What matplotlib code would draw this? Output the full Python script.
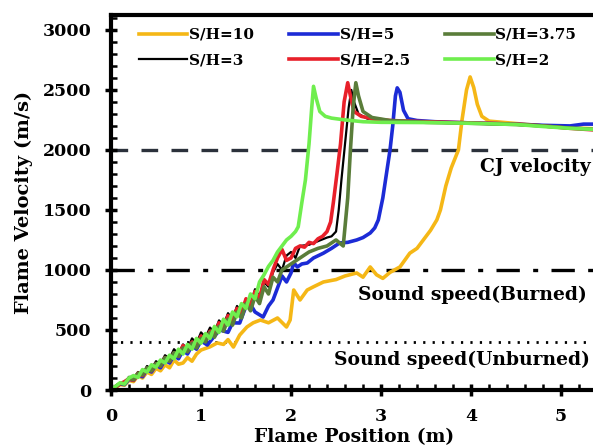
import matplotlib
matplotlib.use("Agg")
import matplotlib.pyplot as plt
from matplotlib.ticker import MultipleLocator

plt.rcParams['font.family'] = 'DejaVu Serif'
plt.rcParams['font.weight'] = 'bold'

# ---- data (position in m, velocity in m/s) ----
plateau_x = [3.5, 4.0, 4.5, 4.8, 5.1, 5.4]

x_sh10 = [0, 0.05, 0.1, 0.15, 0.2, 0.25, 0.3, 0.35, 0.4, 0.45, 0.5, 0.55, 0.6, 0.65,
          0.7, 0.75, 0.8, 0.85, 0.9, 0.95, 1.0, 1.1, 1.18, 1.25, 1.3, 1.36, 1.43,
          1.51, 1.58, 1.66, 1.75, 1.85, 1.95, 1.99, 2.03, 2.1, 2.18, 2.25, 2.36,
          2.5, 2.6, 2.73, 2.8, 2.88, 2.95, 3.02, 3.1, 3.21, 3.32, 3.4, 3.47, 3.55,
          3.62, 3.66, 3.72, 3.78, 3.86, 3.9, 3.95, 3.99, 4.03, 4.07, 4.12, 4.2,
          4.5, 4.8, 5.1, 5.4]
v_sh10 = [0, 20, 45, 40, 80, 70, 120, 100, 150, 130, 180, 160, 210, 185,
          250, 215, 225, 270, 240, 300, 333, 360, 392, 380, 420, 358, 458,
          525, 560, 583, 560, 600, 525, 583, 833, 750, 833, 860, 900,
          920, 950, 975, 940, 1025, 960, 930, 980, 1025, 1140, 1180, 1250, 1330,
          1417, 1500, 1700, 1850, 2000, 2250, 2500, 2608, 2520, 2380, 2280, 2240,
          2220, 2200, 2185, 2175]

x_sh5 = [0, 0.05, 0.1, 0.15, 0.2, 0.25, 0.3, 0.35, 0.4, 0.45, 0.5, 0.55, 0.6, 0.65,
         0.7, 0.75, 0.8, 0.85, 0.9, 0.95, 1.0, 1.07, 1.15, 1.21, 1.3, 1.35, 1.43,
         1.5, 1.54, 1.6, 1.69, 1.75, 1.8, 1.85, 1.9, 1.95, 2.0, 2.03, 2.07, 2.12,
         2.18, 2.25, 2.36, 2.45, 2.54, 2.63, 2.73, 2.8, 2.88, 2.93, 2.97, 3.02,
         3.06, 3.1, 3.13, 3.16, 3.18, 3.21, 3.25, 3.3, 3.4, 3.6, 4.0, 4.5, 4.8,
         5.1, 5.25, 5.4]
v_sh5 = [0, 25, 50, 45, 90, 80, 130, 110, 170, 150, 210, 185, 250, 225,
         290, 260, 330, 300, 370, 340, 410, 375, 450, 500, 480, 560, 558,
         700, 725, 650, 608, 700, 750, 850, 950, 900, 975, 1060, 1025, 1050,
         1058, 1100, 1140, 1180, 1225, 1230, 1250, 1270, 1308, 1350, 1417, 1600,
         1800, 2000, 2200, 2450, 2517, 2480, 2330, 2260, 2245, 2235, 2225, 2215, 2205,
         2200, 2215, 2215]

x_sh375 = [0, 0.05, 0.1, 0.15, 0.2, 0.25, 0.3, 0.35, 0.4, 0.45, 0.5, 0.55, 0.6,
           0.65, 0.7, 0.75, 0.8, 0.85, 0.9, 0.95, 1.0, 1.05, 1.1, 1.15, 1.2, 1.25,
           1.3, 1.35, 1.4, 1.45, 1.5, 1.55, 1.6, 1.65, 1.7, 1.75, 1.8, 1.85, 1.9,
           2.0, 2.1, 2.2, 2.3, 2.4, 2.5, 2.58, 2.6, 2.63, 2.66, 2.69, 2.72, 2.75,
           2.8, 2.9, 3.1] + plateau_x
v_sh375 = [0, 30, 55, 50, 100, 85, 140, 125, 185, 160, 220, 200, 270, 240,
           310, 280, 350, 320, 390, 350, 430, 400, 480, 440, 530, 490,
           590, 540, 650, 600, 720, 660, 780, 720, 860, 800, 940, 900, 1000,
           1050, 1100, 1150, 1180, 1200, 1250, 1200, 1360, 1600, 2000, 2350, 2560, 2450,
           2320, 2270, 2245, 2230, 2222, 2212, 2200, 2182, 2170]

x_sh3 = [0, 0.05, 0.1, 0.15, 0.2, 0.25, 0.3, 0.35, 0.4, 0.45, 0.5, 0.55, 0.6, 0.65,
         0.7, 0.75, 0.8, 0.85, 0.9, 0.95, 1.0, 1.05, 1.1, 1.15, 1.2, 1.25, 1.3,
         1.35, 1.4, 1.45, 1.5, 1.55, 1.6, 1.65, 1.7, 1.75, 1.8, 1.85, 1.9, 1.95,
         2.0, 2.05, 2.1, 2.2, 2.3, 2.4, 2.45, 2.5, 2.53, 2.56, 2.6, 2.64, 2.67,
         2.7, 2.75, 2.85, 3.1] + plateau_x
v_sh3 = [0, 35, 60, 55, 110, 95, 150, 130, 200, 175, 240, 215, 290, 260,
         340, 300, 380, 340, 430, 390, 480, 440, 520, 480, 580, 540, 640,
         590, 700, 650, 760, 720, 840, 780, 900, 860, 980, 1050, 1000, 1120,
         1150, 1100, 1200, 1210, 1240, 1270, 1280, 1320, 1500, 1750, 2050, 2350, 2500,
         2400, 2300, 2260, 2240, 2228, 2220, 2210, 2198, 2180, 2168]

x_sh25 = [0, 0.05, 0.1, 0.15, 0.2, 0.25, 0.3, 0.35, 0.4, 0.45, 0.5, 0.55, 0.6, 0.65,
          0.7, 0.75, 0.8, 0.85, 0.9, 0.95, 1.0, 1.05, 1.1, 1.15, 1.2, 1.25, 1.3,
          1.35, 1.4, 1.45, 1.5, 1.55, 1.6, 1.65, 1.7, 1.75, 1.8, 1.85, 1.9, 1.95,
          2.0, 2.05, 2.1, 2.15, 2.2, 2.25, 2.3, 2.35, 2.4, 2.44, 2.47, 2.51, 2.55,
          2.59, 2.63, 2.66, 2.7, 2.78, 2.9, 3.1] + plateau_x
v_sh25 = [0, 25, 50, 70, 95, 80, 140, 120, 180, 160, 220, 200, 270, 240,
          310, 280, 370, 320, 400, 360, 450, 410, 490, 450, 560, 510, 620,
          570, 680, 640, 760, 700, 820, 760, 920, 880, 1000, 1100, 1170, 1080,
          1100, 1180, 1200, 1190, 1230, 1220, 1260, 1280, 1320, 1400, 1560, 1800, 2050,
          2400, 2560, 2450, 2320, 2280, 2260, 2245, 2235, 2225, 2215, 2200, 2180, 2165]

x_sh2 = [0, 0.05, 0.1, 0.15, 0.2, 0.25, 0.3, 0.35, 0.4, 0.45, 0.5, 0.55, 0.6, 0.65,
         0.7, 0.75, 0.8, 0.85, 0.9, 0.95, 1.0, 1.05, 1.1, 1.15, 1.2, 1.25, 1.3,
         1.35, 1.4, 1.45, 1.5, 1.55, 1.6, 1.65, 1.7, 1.75, 1.8, 1.85, 1.9, 1.95,
         2.0, 2.05, 2.08, 2.12, 2.16, 2.2, 2.23, 2.25, 2.28, 2.32, 2.38, 2.45,
         2.6, 2.8, 3.0] + plateau_x
v_sh2 = [0, 30, 60, 50, 100, 120, 105, 170, 150, 210, 190, 250, 225, 290,
         260, 340, 300, 380, 340, 430, 390, 470, 430, 530, 480, 590, 540,
         650, 610, 720, 680, 800, 760, 900, 960, 1030, 1080, 1150, 1200, 1250,
         1280, 1320, 1360, 1560, 1750, 2050, 2350, 2530, 2430, 2320, 2280, 2265,
         2250, 2235, 2230, 2228, 2222, 2212, 2195, 2180, 2170]

cj_velocity = 2000
sound_burned = 1000
sound_unburned = 400

# ---- figure ----
fig = plt.figure(figsize=(5.93, 4.47), dpi=100)
ax = fig.add_axes([0.1872, 0.1275, 0.8196, 0.8392])

ax.axhline(cj_velocity, color='#2b313b', lw=2.4, dashes=(5, 4), zorder=1)
ax.axhline(sound_burned, color='black', lw=2.4, dashes=(7, 4, 1.5, 4), zorder=1)
ax.axhline(sound_unburned, color='black', lw=2.0, dashes=(0.8, 2.6), zorder=1)

ax.plot(x_sh10, v_sh10, color='#F5B716', lw=2.6, label='S/H=10')
ax.plot(x_sh3, v_sh3, color='black', lw=1.6, label='S/H=3')
ax.plot(x_sh5, v_sh5, color='#1C2BD6', lw=2.6, label='S/H=5')
ax.plot(x_sh25, v_sh25, color='#E8202A', lw=2.6, label='S/H=2.5')
ax.plot(x_sh375, v_sh375, color='#5A7D3A', lw=2.6, label='S/H=3.75')
ax.plot(x_sh2, v_sh2, color='#6FEE4E', lw=2.6, label='S/H=2')

ax.text(4.1, 1858, 'CJ velocity', fontsize=13.5, fontweight='bold', va='center')
ax.text(2.74, 790, 'Sound speed(Burned)', fontsize=13.5, fontweight='bold', va='center')
ax.text(2.48, 255, 'Sound speed(Unburned)', fontsize=13.5, fontweight='bold', va='center')

ax.set_xlim(0, 5.4)
ax.set_ylim(0, 3125)
ax.xaxis.set_major_locator(MultipleLocator(1))
ax.xaxis.set_minor_locator(MultipleLocator(0.2))
ax.yaxis.set_major_locator(MultipleLocator(500))
ax.yaxis.set_minor_locator(MultipleLocator(100))
ax.tick_params(which='major', direction='inout', length=8, width=2.5, labelsize=12.5)
ax.tick_params(axis='y', which='major', pad=10)
ax.tick_params(axis='x', which='major', pad=9)
ax.tick_params(which='minor', direction='in', length=4, width=1.8)
for lab in ax.get_xticklabels() + ax.get_yticklabels():
    lab.set_fontweight('bold')

for s in ['left', 'bottom', 'top']:
    ax.spines[s].set_linewidth(3)
ax.spines['right'].set_visible(False)

ax.set_xlabel('Flame Position (m)', fontsize=13.5, fontweight='bold', labelpad=2)
ax.set_ylabel('Flame Velocity (m/s)', fontsize=14, fontweight='bold', labelpad=7)

leg = ax.legend(ncol=3, loc='upper left', bbox_to_anchor=(0.03, 1.0), frameon=False,
                fontsize=11, handlelength=3.2, handletextpad=0.1, columnspacing=2.3,
                labelspacing=0.75, borderaxespad=0.45)
for t in leg.get_texts():
    t.set_fontweight('bold')

fig.savefig('out.png', dpi=100)
